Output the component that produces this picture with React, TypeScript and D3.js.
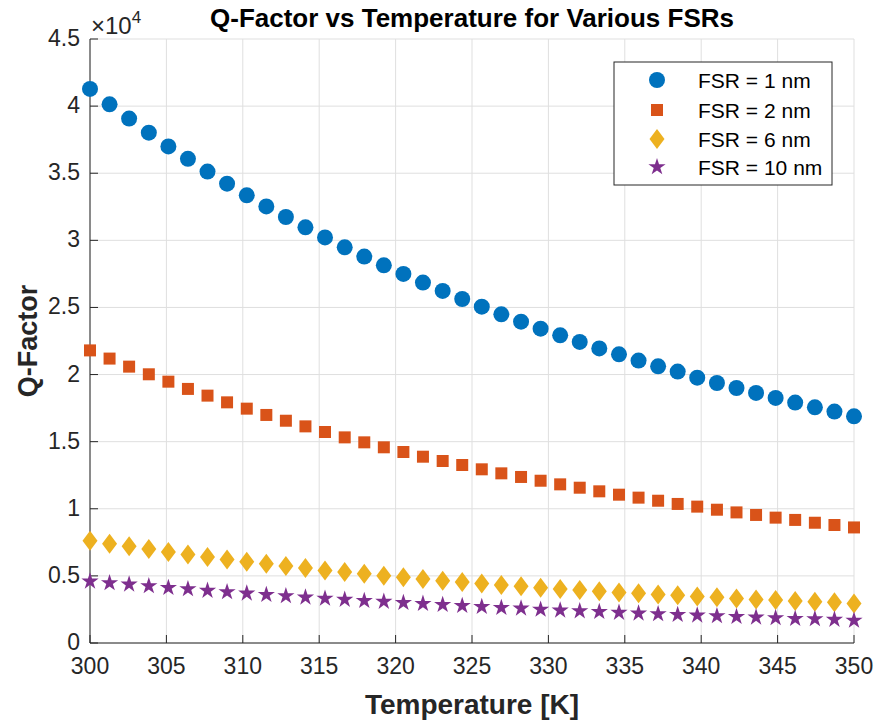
import React, { useEffect, useRef } from "react";
import * as d3 from "d3";

// temperature samples (K)
const temps = [
  300, 301.28, 302.56, 303.85, 305.13, 306.41, 307.69, 308.97, 310.26, 311.54,
  312.82, 314.1, 315.38, 316.67, 317.95, 319.23, 320.51, 321.79, 323.08, 324.36,
  325.64, 326.92, 328.21, 329.49, 330.77, 332.05, 333.33, 334.62, 335.9, 337.18,
  338.46, 339.74, 341.03, 342.31, 343.59, 344.87, 346.15, 347.44, 348.72, 350,
];

const qFsr1 = [
  41280, 40130, 39070, 38020, 37000, 36070, 35120, 34220, 33350, 32530,
  31740, 30970, 30220, 29480, 28790, 28140, 27500, 26850, 26230, 25630,
  25060, 24490, 23940, 23420, 22920, 22430, 21950, 21510, 21040, 20610,
  20220, 19770, 19370, 19000, 18630, 18260, 17910, 17560, 17240, 16890,
];
const qFsr2 = [
  21800, 21190, 20590, 20020, 19470, 18930, 18430, 17930, 17460, 16990,
  16560, 16140, 15720, 15320, 14950, 14580, 14230, 13880, 13560, 13260,
  12940, 12640, 12370, 12090, 11820, 11570, 11300, 11050, 10830, 10600,
  10360, 10160, 9930, 9730, 9540, 9340, 9170, 8960, 8790, 8610,
];
const qFsr6 = [
  7620, 7400, 7200, 7000, 6780, 6600, 6410, 6230, 6060, 5910,
  5740, 5590, 5410, 5290, 5160, 5010, 4890, 4770, 4640, 4550,
  4440, 4320, 4220, 4120, 4020, 3950, 3850, 3770, 3700, 3620,
  3550, 3470, 3400, 3320, 3250, 3200, 3130, 3080, 3030, 2950,
];
const qFsr10 = [
  4590, 4470, 4370, 4250, 4120, 4020, 3900, 3800, 3700, 3600,
  3500, 3400, 3320, 3230, 3150, 3080, 3000, 2930, 2850, 2780,
  2700, 2630, 2580, 2500, 2430, 2380, 2330, 2260, 2210, 2160,
  2110, 2060, 2010, 1960, 1910, 1860, 1810, 1790, 1740, 1680,
];

const seriesLabels = ["FSR = 1 nm", "FSR = 2 nm", "FSR = 6 nm", "FSR = 10 nm"];
const seriesColors = ["#0072BD", "#D95319", "#EDB120", "#7E2F8E"];
const seriesMarkers = ["circle", "square", "diamond", "star"];

const xTicks = [300, 305, 310, 315, 320, 325, 330, 335, 340, 345, 350];
const yTicks = [0, 5000, 10000, 15000, 20000, 25000, 30000, 35000, 40000, 45000];
const yTickLabels = ["0", "0.5", "1", "1.5", "2", "2.5", "3", "3.5", "4", "4.5"];

const FONT = "'Liberation Sans', Arial, Helvetica, sans-serif";

function markerPath(kind) {
  if (kind === "circle") return d3.symbol(d3.symbolCircle, Math.PI * 8 * 8)();
  if (kind === "square") return d3.symbol(d3.symbolSquare, 12 * 12)();
  if (kind === "star") return d3.symbol(d3.symbolStar, 92)();
  // MATLAB-style diamond, a bit taller than wide
  return "M0,-10L7.5,0L0,10L-7.5,0Z";
}

function App() {
  const svgRef = useRef(null);

  useEffect(() => {
    const width = 878;
    const height = 724;
    const margin = { top: 39, right: 24, bottom: 81, left: 90 };

    const svg = d3.select(svgRef.current);
    svg.selectAll("*").remove();
    svg.attr("width", width).attr("height", height);

    svg.append("rect").attr("width", width).attr("height", height).attr("fill", "#fff");

    const xScale = d3
      .scaleLinear()
      .domain([300, 350])
      .range([margin.left, width - margin.right]);
    const yScale = d3
      .scaleLinear()
      .domain([0, 45000])
      .range([height - margin.bottom, margin.top]);

    const x0 = xScale(300);
    const x1 = xScale(350);
    const y0 = yScale(0);
    const y1 = yScale(45000);

    // grid
    svg
      .append("g")
      .selectAll("line")
      .data(xTicks)
      .join("line")
      .attr("x1", (d) => xScale(d))
      .attr("x2", (d) => xScale(d))
      .attr("y1", y0)
      .attr("y2", y1)
      .attr("stroke", "#dfdfdf")
      .attr("stroke-width", 1);
    svg
      .append("g")
      .selectAll("line")
      .data(yTicks)
      .join("line")
      .attr("x1", x0)
      .attr("x2", x1)
      .attr("y1", (d) => yScale(d))
      .attr("y2", (d) => yScale(d))
      .attr("stroke", "#dfdfdf")
      .attr("stroke-width", 1);

    // axes lines + inward ticks
    const axisColor = "#262626";
    svg
      .append("line")
      .attr("x1", x0)
      .attr("x2", x1)
      .attr("y1", y0)
      .attr("y2", y0)
      .attr("stroke", axisColor);
    svg
      .append("line")
      .attr("x1", x0)
      .attr("x2", x0)
      .attr("y1", y0)
      .attr("y2", y1)
      .attr("stroke", axisColor);

    svg
      .append("g")
      .selectAll("line")
      .data(xTicks)
      .join("line")
      .attr("x1", (d) => xScale(d))
      .attr("x2", (d) => xScale(d))
      .attr("y1", y0)
      .attr("y2", y0 - 8)
      .attr("stroke", axisColor);
    svg
      .append("g")
      .selectAll("line")
      .data(yTicks)
      .join("line")
      .attr("x1", x0)
      .attr("x2", x0 + 8)
      .attr("y1", (d) => yScale(d))
      .attr("y2", (d) => yScale(d))
      .attr("stroke", axisColor);

    // tick labels
    svg
      .append("g")
      .selectAll("text")
      .data(xTicks)
      .join("text")
      .attr("x", (d) => xScale(d))
      .attr("y", y0 + 31)
      .attr("text-anchor", "middle")
      .style("font-family", FONT)
      .style("font-size", "23px")
      .attr("fill", axisColor)
      .text((d) => d);
    svg
      .append("g")
      .selectAll("text")
      .data(yTicks)
      .join("text")
      .attr("x", x0 - 10)
      .attr("y", (d) => yScale(d) + 7)
      .attr("text-anchor", "end")
      .style("font-family", FONT)
      .style("font-size", "23px")
      .attr("fill", axisColor)
      .text((d, i) => yTickLabels[i]);

    // exponent
    const expo = svg
      .append("text")
      .attr("x", x0 + 1)
      .attr("y", 34)
      .style("font-family", FONT)
      .style("font-size", "24px")
      .attr("fill", axisColor);
    expo.append("tspan").text("\u00d710");
    expo
      .append("tspan")
      .attr("dy", -11)
      .style("font-size", "17px")
      .text("4");

    // data markers
    const allSeries = [qFsr1, qFsr2, qFsr6, qFsr10];
    allSeries.forEach((vals, si) => {
      const path = markerPath(seriesMarkers[si]);
      svg
        .append("g")
        .selectAll("path")
        .data(vals)
        .join("path")
        .attr("d", path)
        .attr("transform", (d, i) => `translate(${xScale(temps[i])},${yScale(d)})`)
        .attr("fill", seriesColors[si]);
    });

    // title + axis labels
    svg
      .append("text")
      .attr("x", (x0 + x1) / 2)
      .attr("y", 27)
      .attr("text-anchor", "middle")
      .style("font-family", FONT)
      .style("font-size", "26px")
      .style("font-weight", "bold")
      .text("Q-Factor vs Temperature for Various FSRs");

    svg
      .append("text")
      .attr("x", (x0 + x1) / 2)
      .attr("y", 714)
      .attr("text-anchor", "middle")
      .style("font-family", FONT)
      .style("font-size", "28px")
      .style("font-weight", "bold")
      .attr("fill", axisColor)
      .text("Temperature [K]");

    svg
      .append("text")
      .attr("transform", "rotate(-90)")
      .attr("x", -(y0 + y1) / 2)
      .attr("y", 37)
      .attr("text-anchor", "middle")
      .style("font-family", FONT)
      .style("font-size", "27px")
      .style("font-weight", "bold")
      .attr("fill", axisColor)
      .text("Q-Factor");

    // legend
    const legend = svg.append("g").attr("transform", "translate(614,62)");
    legend
      .append("rect")
      .attr("width", 218)
      .attr("height", 123)
      .attr("fill", "#fff")
      .attr("stroke", "#262626")
      .attr("stroke-width", 1);
    const rowY = [18, 48, 77, 105];
    seriesLabels.forEach((lab, si) => {
      legend
        .append("path")
        .attr("d", markerPath(seriesMarkers[si]))
        .attr("transform", `translate(43,${rowY[si]})`)
        .attr("fill", seriesColors[si]);
      legend
        .append("text")
        .attr("x", 84)
        .attr("y", rowY[si] + 7.5)
        .style("font-family", FONT)
        .style("font-size", "21px")
        .attr("fill", "#000")
        .text(lab);
    });
  }, []);

  return (
    <svg
      ref={svgRef}
      style={{ position: "absolute", left: 0, top: 0, display: "block" }}
    ></svg>
  );
}

export default App;
